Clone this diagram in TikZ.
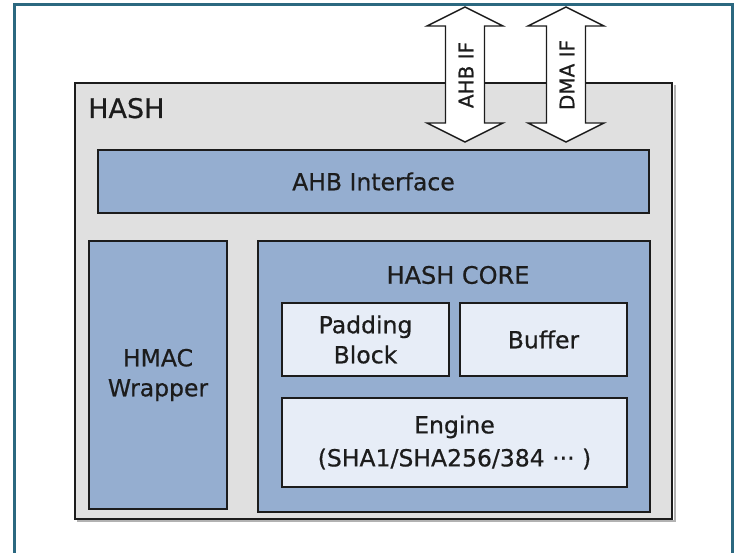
\documentclass[tikz,border=0pt]{standalone}
\usepackage{fontspec}
\setmainfont{DejaVu Sans}[FakeBold=0.6]
\usetikzlibrary{positioning}
\definecolor{frameteal}{RGB}{43,104,128}
\definecolor{hashgray}{RGB}{224,224,224}
\definecolor{blockblue}{RGB}{149,174,208}
\definecolor{subblue}{RGB}{231,237,247}
\definecolor{inkgray}{RGB}{28,28,28}

\begin{document}
\begin{tikzpicture}[x=1pt,y=-1pt,
  box/.style={draw=inkgray, line width=1.8pt, inner sep=0pt, align=center, text=inkgray,
    font=\fontsize{23.5}{30}\selectfont},
  hashbox/.style={box, fill=hashgray},
  bluebox/.style={box, fill=blockblue},
  subbox/.style={box, fill=subblue},
  lbl/.style={text=inkgray, inner sep=0pt, font=\fontsize{24}{30}\selectfont},
  ifarrow/.style={draw=inkgray, line width=1.4pt, fill=white, line join=miter}
]
\useasboundingbox (0,0) rectangle (735,553);
\draw[frameteal, line width=3pt] (14,553) -- (14,5) -- (732,5) -- (732,553);

% outer block
\draw[gray!60, line width=1.4pt] (77,521) -- (675,521) -- (675,85);
\node[hashbox, minimum width=597, minimum height=436] (hash) at (373.5,301) {};
\node[lbl, anchor=base west, font=\fontsize{27}{30}\selectfont] (hashlbl) at (88,118) {HASH};

\node[bluebox, minimum width=551, minimum height=63] (ahb) at (373.5,181.5) {AHB Interface};
\node[bluebox, minimum width=138, minimum height=268] (hmac) at (158,375) {HMAC\\Wrapper};
\node[bluebox, minimum width=392, minimum height=271] (core) at (454,376.5) {};
\node[lbl] (corelbl) at (458,275) {HASH CORE};

\node[subbox, minimum width=167, minimum height=73] (pad) at (365.5,339.5) {Padding\\Block};
\node[subbox, minimum width=167, minimum height=73] (buf) at (543.5,339.5) {Buffer};
\node[subbox, minimum width=345, minimum height=89] (eng) at (454.5,442.5)
  {Engine\\[3pt](SHA1/SHA256/384 ··· )};

% bus interfaces
\foreach \cx/\txt/\nm in {465/AHB IF/ahbif, 566/DMA IF/dmaif}{
  \draw[ifarrow] (\cx,7) -- (\cx+38,26) -- (\cx+19.5,26) -- (\cx+19.5,123) -- (\cx+38,123)
    -- (\cx,142) -- (\cx-38,123) -- (\cx-19.5,123) -- (\cx-19.5,26) -- (\cx-38,26) -- cycle;
  \node[lbl, rotate=90, font=\fontsize{20}{22}\selectfont] (\nm) at (\cx+1,75) {\txt};
}
\end{tikzpicture}
\end{document}
